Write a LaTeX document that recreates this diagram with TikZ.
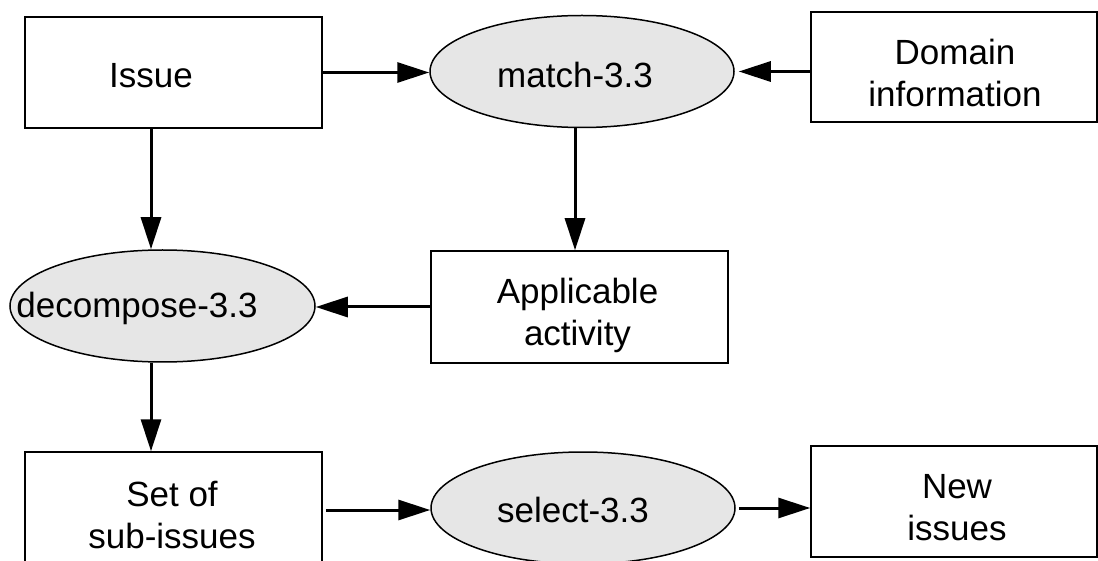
\documentclass[tikz,border=0pt]{standalone}
\usepackage{fontspec}
\setmainfont{Liberation Sans}
\usetikzlibrary{arrows.meta,shapes.geometric}
\definecolor{ellfill}{HTML}{E6E6E6}
\begin{document}
\begin{tikzpicture}[x=1pt,y=-1pt,
  boxnode/.style={draw, rectangle, line width=1.5pt, inner sep=0pt},
  procnode/.style={draw, ellipse, fill=ellfill, line width=1.5pt, inner sep=0pt},
  lbl/.style={font=\fontsize{35}{42}\selectfont, align=center, anchor=base, inner sep=0pt},
  arr/.style={line width=3pt, -{Triangle[length=32pt,width=20pt]}}]
\useasboundingbox (0,0) rectangle (1098,561);
% shapes
\node[boxnode, minimum width=297pt, minimum height=111pt] (issue) at (173.5,72.5) {};
\node[procnode, minimum width=304pt, minimum height=112pt] (match) at (582,71.5) {};
\node[boxnode, minimum width=286pt, minimum height=110pt] (domain) at (954,67) {};
\node[procnode, minimum width=305pt, minimum height=112pt] (decomp) at (162.5,306) {};
\node[boxnode, minimum width=297pt, minimum height=112pt] (applic) at (579.5,307) {};
\node[boxnode, minimum width=297pt, minimum height=116pt] (set) at (173.5,510) {};
\node[procnode, minimum width=304pt, minimum height=112pt] (select) at (583,508) {};
\node[boxnode, minimum width=286pt, minimum height=111pt] (new) at (954,501.5) {};
% texts
\node[lbl] (issuetxt) at (151,88) {Issue};
\node[lbl] (matchtxt) at (575,88) {match-3.3};
\node[lbl] (domaintxt) at (955,107) {Domain\\information};
\node[lbl] (decomptxt) at (137,318) {decompose-3.3};
\node[lbl] (applictxt) at (577.5,345) {Applicable\\activity};
\node[lbl] (settxt) at (172,548) {Set of\\sub-issues};
\node[lbl] (selecttxt) at (573,522) {select-3.3};
\node[lbl] (newtxt) at (957,540) {New\\issues};
% connectors
\draw[arr] (issue.east) -- (issue.east -| match.west);
\draw[arr] (domain.west |- match.east) -- ([xshift=4pt]match.east);
\draw[arr] ([xshift=-7pt]match.south) -- ([xshift=-7pt]match.south |- applic.north);
\draw[arr] (issuetxt |- issue.south) -- (issuetxt |- decomp.north);
\draw[arr] (applic.west) -- (applic.west -| decomp.east);
\draw[arr] (issuetxt |- decomp.south) -- (issuetxt |- set.north);
\draw[arr] ([xshift=3pt]set.east) -- (set.east -| select.west);
\draw[arr] ([xshift=3pt]select.east) -- (select.east -| new.west);
\end{tikzpicture}
\end{document}
